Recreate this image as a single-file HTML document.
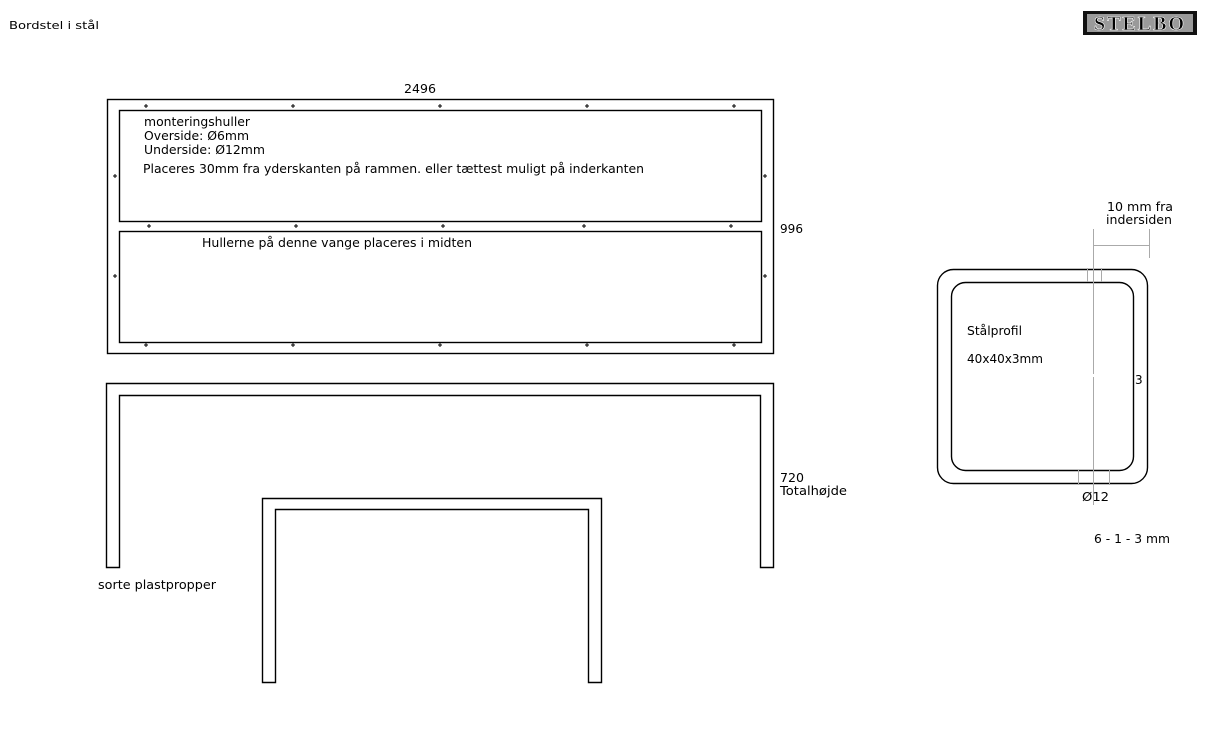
<!DOCTYPE html>
<html><head><meta charset="utf-8"><style>
html,body{margin:0;padding:0;background:#fff;width:1230px;height:735px;overflow:hidden}
svg{display:block}
text{font-family:"DejaVu Sans","Liberation Sans",sans-serif;font-size:12px;fill:#000}
</style></head><body>
<svg width="1230" height="735" viewBox="0 0 1230 735">
<text x="9" y="29" style="font-size:11px" textLength="90" lengthAdjust="spacingAndGlyphs">Bordstel i stål</text>
<rect x="1083" y="11" width="114" height="24" fill="#111"/>
<rect x="1087" y="14" width="106" height="18" fill="#9a9a9a"/>
<text x="1140" y="30" text-anchor="middle" style="font-family:'Liberation Serif',serif;font-size:20px;font-weight:bold;letter-spacing:2px;fill:#000;stroke:#fff;stroke-width:0.6">STELBO</text>

<g fill="none" stroke="#000" stroke-width="1.4">
<rect x="107.5" y="99.5" width="666" height="254"/>
<rect x="119.5" y="110.5" width="642" height="111"/>
<rect x="119.5" y="231.5" width="642" height="111"/>
<path d="M106.5 567.5 V383.5 H773.5 V567.5 H760.5 V395.5 H119.5 V567.5 Z"/>
<path d="M262.5 682.5 V498.5 H601.5 V682.5 H588.5 V509.5 H275.5 V682.5 Z"/>
<rect x="937.5" y="269.5" width="210" height="214" rx="16"/>
<rect x="951.5" y="282.5" width="182" height="188" rx="14"/>
</g>
<g fill="none" stroke="#000" stroke-width="1">
<path d="M144 106h4M146 104v4M291 106h4M293 104v4M438 106h4M440 104v4M585 106h4M587 104v4M732 106h4M734 104v4"/>
<path d="M147 226h4M149 224v4M294 226h4M296 224v4M441 226h4M443 224v4M582 226h4M584 224v4M729 226h4M731 224v4"/>
<path d="M144 345h4M146 343v4M291 345h4M293 343v4M438 345h4M440 343v4M585 345h4M587 343v4M732 345h4M734 343v4"/>
<path d="M113 176h4M115 174v4M763 176h4M765 174v4M113 276h4M115 274v4M763 276h4M765 274v4"/>
</g>
<g fill="none" stroke="#aaa" stroke-width="1">
<path d="M1093.5 229V374M1093.5 377V505M1093 245.5H1149M1149.5 229V258"/>
<path d="M1087.5 268V282M1101.5 268V282M1078.5 470V485M1109.5 470V485"/>
</g>
<text x="404" y="93" textLength="32" lengthAdjust="spacingAndGlyphs">2496</text>
<text x="144" y="126" textLength="106" lengthAdjust="spacingAndGlyphs">monteringshuller</text>
<text x="144" y="140" textLength="105" lengthAdjust="spacingAndGlyphs">Overside: Ø6mm</text>
<text x="144" y="154" textLength="121" lengthAdjust="spacingAndGlyphs">Underside: Ø12mm</text>
<text x="143" y="173" textLength="501" lengthAdjust="spacingAndGlyphs">Placeres 30mm fra yderskanten på rammen. eller tættest muligt på inderkanten</text>
<text x="202" y="247" textLength="270" lengthAdjust="spacingAndGlyphs">Hullerne på denne vange placeres i midten</text>
<text x="780" y="233" textLength="23" lengthAdjust="spacingAndGlyphs">996</text>
<text x="780" y="482" textLength="24" lengthAdjust="spacingAndGlyphs">720</text>
<text x="780" y="495" textLength="67" lengthAdjust="spacingAndGlyphs">Totalhøjde</text>
<text x="98" y="589" textLength="118" lengthAdjust="spacingAndGlyphs">sorte plastpropper</text>
<text x="1107" y="211" textLength="66" lengthAdjust="spacingAndGlyphs">10 mm  fra</text>
<text x="1106" y="224" textLength="66" lengthAdjust="spacingAndGlyphs">indersiden</text>
<text x="967" y="335" textLength="55" lengthAdjust="spacingAndGlyphs">Stålprofil</text>
<text x="967" y="363" textLength="76" lengthAdjust="spacingAndGlyphs">40x40x3mm</text>
<text x="1135" y="384">3</text>
<text x="1082" y="501" textLength="27" lengthAdjust="spacingAndGlyphs">Ø12</text>
<text x="1094" y="543" textLength="76" lengthAdjust="spacingAndGlyphs">6 - 1 - 3 mm</text>
</svg>
</body></html>
